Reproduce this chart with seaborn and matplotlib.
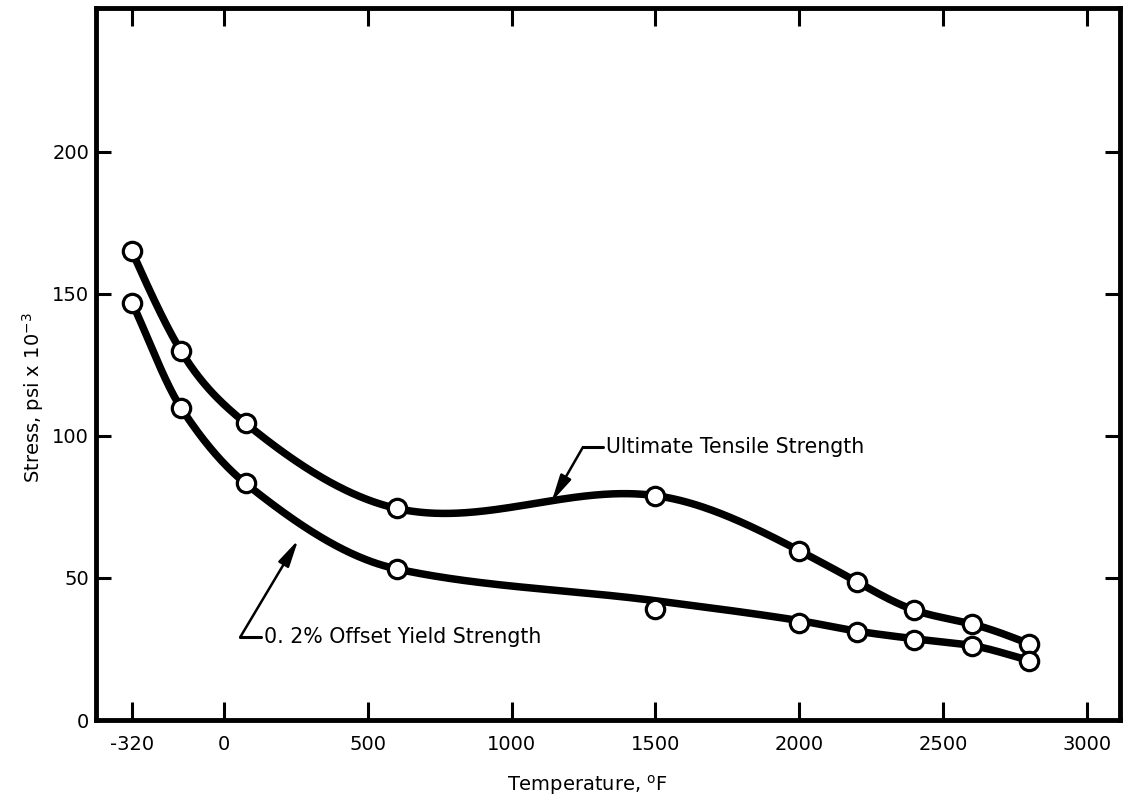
import numpy as np
import pandas as pd
import matplotlib
matplotlib.use("Agg")
import matplotlib.pyplot as plt
import seaborn as sns

# ---- data ----
temperature_f = [-320, -150, 75, 600, 1500, 2000, 2200, 2400, 2600, 2800]
ultimate_tensile = [165, 130, 104.5, 74.5, 79, 59.6, 48.7, 38.7, 33.8, 26.8]
yield_strength = [147, 110, 83.3, 53.2, 39.2, 34.3, 30.9, 28.2, 26.2, 20.9]
# faired curve through the yield points (the drawn line passes above the 1500 F point)
yield_curve = [147, 110, 83.3, 53.2, 42.0, 35.0, 31.3, 28.6, 26.2, 21.0]

x_ticks = [-320, 0, 500, 1000, 1500, 2000, 2500, 3000]
y_ticks = [0, 50, 100, 150, 200]
x_limits = (-445, 3115)
y_limits = (0, 250.7)

uts_label = "Ultimate Tensile Strength"
ys_label = "0. 2% Offset Yield Strength"
# annotation anchor points (data coords): arrow tip, elbow
uts_tip, uts_elbow, uts_text_x = (1139, 76.9), (1248, 96.1), 1318
ys_tip, ys_elbow, ys_text_x = (258, 63.4), (56, 29.1), 130


def natural_spline(x, y, xs):
    x = np.asarray(x, float)
    y = np.asarray(y, float)
    n = len(x)
    h = np.diff(x)
    A = np.zeros((n, n))
    r = np.zeros(n)
    A[0, 0] = 1
    A[-1, -1] = 1
    for i in range(1, n - 1):
        A[i, i - 1] = h[i - 1]
        A[i, i] = 2 * (h[i - 1] + h[i])
        A[i, i + 1] = h[i]
        r[i] = 6 * ((y[i + 1] - y[i]) / h[i] - (y[i] - y[i - 1]) / h[i - 1])
    M = np.linalg.solve(A, r)
    idx = np.clip(np.searchsorted(x, xs) - 1, 0, n - 2)
    x0, x1 = x[idx], x[idx + 1]
    hh = x1 - x0
    return (M[idx] * (x1 - xs) ** 3 / (6 * hh) + M[idx + 1] * (xs - x0) ** 3 / (6 * hh)
            + (y[idx] / hh - M[idx] * hh / 6) * (x1 - xs)
            + (y[idx + 1] / hh - M[idx + 1] * hh / 6) * (xs - x0))


def pchip(x, y, xs):
    x = np.asarray(x, float)
    y = np.asarray(y, float)
    h = np.diff(x)
    d = np.diff(y) / h
    n = len(x)
    m = np.zeros(n)
    for i in range(1, n - 1):
        if d[i - 1] * d[i] > 0:
            w1 = 2 * h[i] + h[i - 1]
            w2 = h[i] + 2 * h[i - 1]
            m[i] = (w1 + w2) / (w1 / d[i - 1] + w2 / d[i])
    m[0] = d[0]
    m[-1] = d[-1]
    idx = np.clip(np.searchsorted(x, xs) - 1, 0, n - 2)
    hh = h[idx]
    t = (xs - x[idx]) / hh
    h00 = 2 * t ** 3 - 3 * t ** 2 + 1
    h10 = t ** 3 - 2 * t ** 2 + t
    h01 = -2 * t ** 3 + 3 * t ** 2
    h11 = t ** 3 - t ** 2
    return h00 * y[idx] + h10 * hh * m[idx] + h01 * y[idx + 1] + h11 * hh * m[idx + 1]


sns.set_style("ticks")
plt.rcParams["font.family"] = ["DejaVu Sans"]
plt.rcParams["text.color"] = "black"
plt.rcParams["axes.labelcolor"] = "black"
plt.rcParams["xtick.color"] = "black"
plt.rcParams["ytick.color"] = "black"

fig = plt.figure(figsize=(11.26, 8.02), dpi=100)
ax = fig.add_axes([96 / 1126, 1 - 720 / 802, 1024 / 1126, 712 / 802])

xs = np.linspace(temperature_f[0], temperature_f[-1], 600)
curves = pd.DataFrame({
    "Temperature": np.concatenate([xs, xs]),
    "Stress": np.concatenate([natural_spline(temperature_f, ultimate_tensile, xs),
                              pchip(temperature_f, yield_curve, xs)]),
    "Series": [uts_label] * len(xs) + [ys_label] * len(xs),
})
points = pd.DataFrame({
    "Temperature": temperature_f * 2,
    "Stress": ultimate_tensile + yield_strength,
    "Series": [uts_label] * len(temperature_f) + [ys_label] * len(temperature_f),
})

sns.lineplot(data=curves, x="Temperature", y="Stress", units="Series", estimator=None,
             color="black", linewidth=5.4, ax=ax, legend=False, zorder=2,
             solid_capstyle="round")
sns.scatterplot(data=points, x="Temperature", y="Stress", s=175, color="white",
                edgecolor="black", linewidth=2.3, ax=ax, legend=False, zorder=3)

# annotations
fs_text = 14.8
for tip, elbow, tx, lab in [(uts_tip, uts_elbow, uts_text_x, uts_label),
                            (ys_tip, ys_elbow, ys_text_x, ys_label)]:
    ax.annotate("", xy=tip, xytext=elbow,
                arrowprops=dict(arrowstyle="-|>,head_length=0.9,head_width=0.2",
                                color="black", lw=1.8, shrinkA=0, shrinkB=0,
                                mutation_scale=18))
    ax.plot([elbow[0], tx], [elbow[1], elbow[1]], color="black", lw=2.2)
    ax.text(tx + 10, elbow[1], lab, fontsize=fs_text, va="center", ha="left")

ax.set_xlim(*x_limits)
ax.set_ylim(*y_limits)
ax.set_xticks(x_ticks)
ax.set_xticklabels([str(v) for v in x_ticks])
ax.set_yticks(y_ticks)
ax.set_yticklabels([str(v) for v in y_ticks])

for s in ax.spines.values():
    s.set_visible(True)
    s.set_linewidth(3.5)
    s.set_color("black")

ax.tick_params(axis="x", direction="in", length=13, width=2.2, top=True, bottom=True,
               labelsize=14, pad=11)
ax.tick_params(axis="y", direction="in", length=11, width=2.2, left=True, right=True,
               labelsize=14, pad=5)

ax.set_xlabel("Temperature, $^{\\mathrm{o}}$F", fontsize=14)
ax.set_ylabel("Stress, psi x 10$^{-3}$", fontsize=14)
ax.xaxis.label.set_va("center")
ax.yaxis.label.set_va("center")
ax.xaxis.set_label_coords(0.48, -0.091)
ax.yaxis.set_label_coords(-0.0615, 0.452)

fig.savefig("out.png", dpi=100)
